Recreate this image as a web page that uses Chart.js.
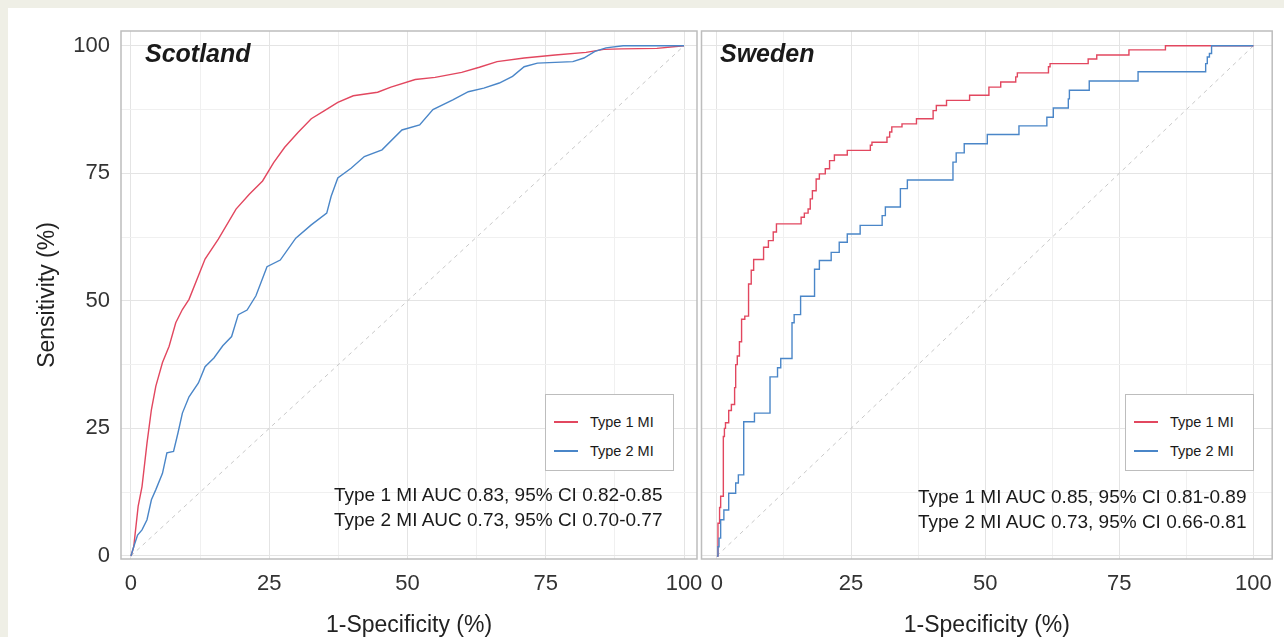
<!DOCTYPE html>
<html>
<head>
<meta charset="utf-8">
<script src="https://cdn.jsdelivr.net/npm/chart.js@4"></script>
<style>
  html, body { margin: 0; padding: 0; }
  body {
    width: 1284px; height: 637px; overflow: hidden; position: relative;
    background: #efefe6;
    font-family: "Liberation Sans", Arial, sans-serif;
  }
  #sheet { position: absolute; left: 8px; top: 8px; right: 0; bottom: 0; background: #fff; }
  canvas { position: absolute; left: 0; top: 0; }
  .panel-title {
    position: absolute; font-weight: bold; font-style: italic;
    font-size: 25px; line-height: 25px; color: #1a1a1a; white-space: nowrap;
  }
  .auc { position: absolute; font-size: 19px; line-height: 25px; color: #1a1a1a; white-space: nowrap; }
  .legend {
    position: absolute; width: 127px; height: 75px;
    border: 1.5px solid #bdbdbd; background: #fff;
  }
  .legend .key { position: absolute; left: 8px; width: 24px; height: 2px; }
  .legend .lab { position: absolute; left: 44px; font-size: 14.5px; line-height: 16px; color: #1a1a1a; white-space: nowrap; }
</style>
</head>
<body>
<div id="sheet"></div>
<canvas id="scotland" width="1284" height="637"></canvas>
<canvas id="sweden" width="1284" height="637"></canvas>
<div id="notes"></div>

<script>
// panels and series
const panelNames = ['Scotland', 'Sweden'];
const seriesNames = ['Type 1 MI', 'Type 2 MI'];
const seriesColors = ['#e2475f', '#4a86c8'];

// grid every 12.5, labels every 25
const gridValues = [0, 12.5, 25, 37.5, 50, 62.5, 75, 87.5, 100];

// Scotland ROC curves, 1-specificity (%) vs sensitivity (%)
const scotT1Fpr = [0, 0.5, 1.3, 2.0, 2.9, 3.7, 4.5, 5.7, 6.9, 8.1, 9.3, 10.5, 13.4, 15.8, 19.0, 21.4, 23.8, 25.8, 27.8, 30.2, 32.6, 35.0, 37.4, 40.2, 44.6, 47.0, 51.4, 55.0, 59.8, 63.0, 66.2, 71.1, 76.7, 82.3, 85.5, 88.7, 95.1, 100];
const scotT1Tpr = [0, 1.8, 9.7, 13.6, 22.1, 28.7, 33.3, 37.9, 41.1, 45.7, 48.3, 50.3, 58.2, 62.1, 68.0, 70.9, 73.5, 77.1, 80.1, 83.0, 85.7, 87.3, 88.9, 90.2, 90.9, 91.9, 93.4, 93.8, 94.8, 95.8, 96.9, 97.6, 98.2, 98.7, 99.3, 99.4, 99.5, 100];
const scotT2Fpr = [0, 0.5, 1.2, 2.0, 2.9, 3.7, 4.5, 5.7, 6.5, 7.7, 8.5, 9.3, 10.5, 12.2, 13.4, 15.0, 16.6, 18.2, 19.4, 21.0, 22.6, 24.6, 27.0, 29.8, 32.6, 35.4, 36.2, 37.4, 39.8, 42.2, 45.4, 49.0, 52.2, 54.6, 58.2, 61.0, 63.8, 66.6, 69.0, 71.1, 73.5, 79.9, 81.9, 83.9, 85.9, 89.0, 100];
const scotT2Tpr = [0, 1.8, 4.1, 5.1, 7.1, 11.0, 13.0, 16.2, 20.2, 20.5, 24.1, 28.0, 31.2, 33.9, 37.1, 38.8, 41.2, 43.0, 47.3, 48.2, 51.0, 56.7, 58.0, 62.3, 64.9, 67.2, 70.5, 74.1, 76.0, 78.3, 79.6, 83.5, 84.5, 87.5, 89.4, 91.0, 91.7, 92.7, 94.0, 95.9, 96.6, 96.9, 97.6, 98.9, 99.6, 100, 100];

// Sweden ROC curves (step points: x where the curve rises, y after the rise)
const swedT1Fpr = [0, 0.2, 0.5, 0.7, 1.2, 1.4, 1.6, 2.2, 2.7, 3.3, 3.5, 3.8, 4.2, 4.6, 5.2, 5.9, 5.9, 6.4, 6.85, 8.7, 9.6, 10.5, 11.1, 15.7, 16.3, 17.0, 17.4, 17.8, 18.5, 19.1, 20.2, 21.0, 21.9, 24.3, 28.6, 28.9, 31.7, 32.2, 32.6, 34.5, 37.2, 40.3, 40.9, 42.8, 47.1, 50.7, 52.9, 55.7, 56.0, 61.8, 62.1, 69.2, 70.8, 76.8, 83.6, 100];
const swedT1Tpr = [0, 6.4, 9.5, 11.7, 23.4, 25.0, 26.1, 28.5, 29.7, 33.0, 37.5, 39.2, 42.0, 46.4, 47.0, 47.7, 53.3, 56.0, 58.1, 60.5, 61.8, 63.5, 65.1, 66.4, 67.2, 68.0, 70.0, 71.6, 73.9, 74.9, 75.9, 77.5, 78.6, 79.5, 80.5, 81.1, 82.1, 83.1, 84.1, 84.7, 85.7, 87.3, 88.3, 89.3, 90.3, 91.9, 92.9, 93.9, 94.7, 95.9, 96.5, 97.4, 98.2, 99.2, 100, 100];
const swedT2Fpr = [0, 0.2, 0.4, 0.7, 1.3, 2.2, 3.5, 4.0, 5.0, 7.0, 9.9, 11.3, 11.9, 14.0, 14.4, 15.6, 18.2, 19.1, 21.3, 22.8, 24.3, 26.7, 30.8, 31.4, 34.2, 35.5, 44.0, 44.6, 46.1, 50.4, 56.3, 61.5, 62.7, 65.5, 65.7, 69.4, 78.5, 91.1, 91.4, 91.8, 92.2, 100];
const swedT2Tpr = [0, 1.8, 3.5, 7.1, 9.0, 12.3, 14.3, 15.9, 26.3, 28.0, 35.1, 36.9, 38.7, 45.7, 47.3, 50.9, 56.2, 57.9, 59.5, 61.5, 63.1, 64.8, 66.7, 68.4, 72.0, 73.7, 77.2, 79.0, 80.8, 82.6, 84.3, 86.0, 87.8, 89.6, 91.3, 93.1, 94.9, 96.5, 97.8, 98.5, 100, 100];

// reference line
const chanceXY = [0, 100];

// AUC annotations
const scotAuc = ['Type 1 MI AUC 0.83, 95% CI 0.82-0.85', 'Type 2 MI AUC 0.73, 95% CI 0.70-0.77'];
const swedAuc = ['Type 1 MI AUC 0.85, 95% CI 0.81-0.89', 'Type 2 MI AUC 0.73, 95% CI 0.66-0.81'];

const FONT = '"Liberation Sans", Arial, sans-serif';

function toPoints(xs, ys) {
    return xs.map((x, i) => ({ x: x, y: ys[i] }));
}

// grey frame round each panel, like ggplot's panel.border
const panelBox = {
    id: 'panelBox',
    afterDraw(chart) {
        const { ctx, chartArea: a } = chart;
        ctx.save();
        ctx.strokeStyle = '#bdbdbd';
        ctx.lineWidth = 1.5;
        ctx.strokeRect(a.left, a.top, a.right - a.left, a.bottom - a.top);
        ctx.restore();
    }
};

function gridColor(c) {
    return c.tick && c.tick.value % 25 === 0 ? '#e4e4e4' : '#f0f0f0';
}

function makePanel(id, cfg) {
    const ctx = document.getElementById(id).getContext('2d');
    // 'before' = move across first, then rise (ROC staircase)
    const step = cfg.stepped ? 'before' : false;
    return new Chart(ctx, {
        type: 'scatter',
        data: {
            datasets: [
                {
                    label: seriesNames[1],
                    data: toPoints(cfg.t2x, cfg.t2y),
                    borderColor: seriesColors[1],
                    borderWidth: 1.4,
                    pointRadius: 0,
                    showLine: true,
                    stepped: step
                },
                {
                    label: seriesNames[0],
                    data: toPoints(cfg.t1x, cfg.t1y),
                    borderColor: seriesColors[0],
                    borderWidth: 1.4,
                    pointRadius: 0,
                    showLine: true,
                    stepped: step
                },
                {
                    label: 'chance',
                    data: toPoints(chanceXY, chanceXY),
                    borderColor: '#c8c8c8',
                    borderWidth: 1,
                    borderDash: [4, 4],
                    pointRadius: 0,
                    showLine: true
                }
            ]
        },
        options: {
            responsive: false,
            animation: false,
            events: [],
            layout: { padding: cfg.padding },
            plugins: {
                legend: { display: false },
                tooltip: { enabled: false }
            },
            scales: {
                x: {
                    type: 'linear',
                    min: cfg.xMin,
                    max: cfg.xMax,
                    afterBuildTicks: s => { s.ticks = gridValues.map(v => ({ value: v })); },
                    afterFit: s => { s.height = 78; },
                    grid: { color: gridColor, lineWidth: 1, drawTicks: false },
                    border: { display: false },
                    ticks: {
                        autoSkip: false,
                        maxRotation: 0,
                        padding: 12,
                        color: '#333',
                        font: { family: FONT, size: 22 },
                        callback: v => (v % 25 === 0 ? String(v) : '')
                    },
                    title: {
                        display: true,
                        text: '1-Specificity (%)',
                        color: '#222',
                        font: { family: FONT, size: 23, lineHeight: 1 },
                        padding: { top: 0, bottom: 0 }
                    }
                },
                y: {
                    type: 'linear',
                    min: -0.6,
                    max: 102.9,
                    afterBuildTicks: s => { s.ticks = gridValues.map(v => ({ value: v })); },
                    afterFit: s => { s.width = cfg.showY ? 121 : 0; },
                    grid: { color: gridColor, lineWidth: 1, drawTicks: false },
                    border: { display: false },
                    ticks: {
                        display: cfg.showY,
                        autoSkip: false,
                        padding: 11,
                        color: '#333',
                        font: { family: FONT, size: 22 },
                        callback: v => (v % 25 === 0 ? String(v) : '')
                    },
                    title: {
                        display: cfg.showY,
                        text: 'Sensitivity (%)',
                        color: '#222',
                        font: { family: FONT, size: 23, lineHeight: 1 },
                        padding: { top: 36.5, bottom: 0 }
                    }
                }
            }
        },
        plugins: [panelBox]
    });
}

makePanel('scotland', {
    t1x: scotT1Fpr, t1y: scotT1Tpr, t2x: scotT2Fpr, t2y: scotT2Tpr,
    stepped: false, showY: true,
    xMin: -1.8, xMax: 102.35,
    padding: { left: 0, right: 587, top: 31, bottom: 0 }
});

makePanel('sweden', {
    t1x: swedT1Fpr, t1y: swedT1Tpr, t2x: swedT2Fpr, t2y: swedT2Tpr,
    stepped: true, showY: false,
    xMin: -2.87, xMax: 103.5,
    padding: { left: 701.5, right: 7, top: 31, bottom: 0 }
});

// titles, legends and AUC text on top of the canvases
const notes = document.getElementById('notes');
const panelLeft = [145, 720];
const legendLeft = [545, 1125];
const aucLeft = [334, 918];
const aucText = [scotAuc, swedAuc];

panelNames.forEach((name, p) => {
    const t = document.createElement('div');
    t.className = 'panel-title';
    t.style.left = panelLeft[p] + 'px';
    t.style.top = '41px';
    t.textContent = name;
    notes.appendChild(t);

    const box = document.createElement('div');
    box.className = 'legend';
    box.style.left = legendLeft[p] + 'px';
    box.style.top = '394px';
    seriesNames.forEach((s, i) => {
        const key = document.createElement('div');
        key.className = 'key';
        key.style.top = (26 + i * 28.5) + 'px';
        key.style.background = seriesColors[i];
        box.appendChild(key);
        const lab = document.createElement('div');
        lab.className = 'lab';
        lab.style.top = (19 + i * 28.5) + 'px';
        lab.textContent = s;
        box.appendChild(lab);
    });
    notes.appendChild(box);

    const auc = document.createElement('div');
    auc.className = 'auc';
    auc.style.left = aucLeft[p] + 'px';
    auc.style.top = (482 + p * 2) + 'px';
    auc.innerHTML = aucText[p].join('<br>');
    notes.appendChild(auc);
});
</script>
</body>
</html>
